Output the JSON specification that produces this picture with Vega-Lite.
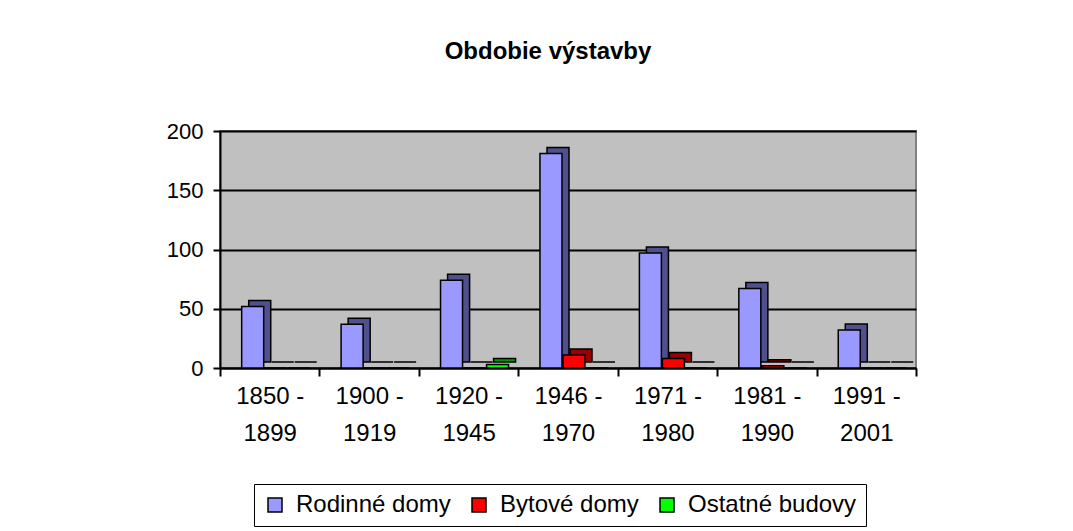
{
  "$schema": "https://vega.github.io/schema/vega-lite/v6.json",
  "width": 696,
  "height": 237,
  "padding": {"left": 166, "top": 40, "right": 10, "bottom": 2},
  "background": "white",
  "config": {
    "font": "Liberation Sans",
    "view": {"fill": "#C0C0C0", "stroke": "#808080", "strokeWidth": 2}
  },
  "title": {"text": "Obdobie výstavby", "font": "Liberation Sans", "fontSize": 24, "fontWeight": "bold", "color": "black", "offset": 56, "dx": -20},
  "data": {
    "values": [
      {"obdobie": "1850 - 1899", "typ": "Rodinné domy", "pocet": 52},
      {"obdobie": "1850 - 1899", "typ": "Bytové domy", "pocet": 0},
      {"obdobie": "1850 - 1899", "typ": "Ostatné budovy", "pocet": 0},
      {"obdobie": "1900 - 1919", "typ": "Rodinné domy", "pocet": 37},
      {"obdobie": "1900 - 1919", "typ": "Bytové domy", "pocet": 0},
      {"obdobie": "1900 - 1919", "typ": "Ostatné budovy", "pocet": 0},
      {"obdobie": "1920 - 1945", "typ": "Rodinné domy", "pocet": 74},
      {"obdobie": "1920 - 1945", "typ": "Bytové domy", "pocet": 0},
      {"obdobie": "1920 - 1945", "typ": "Ostatné budovy", "pocet": 3},
      {"obdobie": "1946 - 1970", "typ": "Rodinné domy", "pocet": 181},
      {"obdobie": "1946 - 1970", "typ": "Bytové domy", "pocet": 11},
      {"obdobie": "1946 - 1970", "typ": "Ostatné budovy", "pocet": 0},
      {"obdobie": "1971 - 1980", "typ": "Rodinné domy", "pocet": 97},
      {"obdobie": "1971 - 1980", "typ": "Bytové domy", "pocet": 8},
      {"obdobie": "1971 - 1980", "typ": "Ostatné budovy", "pocet": 0},
      {"obdobie": "1981 - 1990", "typ": "Rodinné domy", "pocet": 67},
      {"obdobie": "1981 - 1990", "typ": "Bytové domy", "pocet": 2},
      {"obdobie": "1981 - 1990", "typ": "Ostatné budovy", "pocet": 0},
      {"obdobie": "1991 - 2001", "typ": "Rodinné domy", "pocet": 32},
      {"obdobie": "1991 - 2001", "typ": "Bytové domy", "pocet": 0},
      {"obdobie": "1991 - 2001", "typ": "Ostatné budovy", "pocet": 0}
    ]
  },
  "encoding": {
    "x": {
      "field": "obdobie", "type": "nominal", "sort": null,
      "scale": {"paddingInner": 0, "paddingOuter": 0},
      "axis": {
        "title": null,
        "labelAngle": 0,
        "labelExpr": "datum.value ? [split(datum.value, ' - ')[0] + ' -', split(datum.value, ' - ')[1]] : ''",
        "labelFont": "Liberation Sans",
        "labelFontSize": 24,
        "labelColor": "black",
        "labelLineHeight": 37,
        "labelPadding": 8,
        "tickBand": "extent",
        "tickSize": 8,
        "tickColor": "black",
        "tickWidth": 2,
        "domainColor": "black",
        "domainWidth": 2
      }
    },
    "y": {
      "field": "pocet", "type": "quantitative",
      "scale": {"domain": [0, 200], "nice": false},
      "axis": {
        "title": null,
        "values": [0, 50, 100, 150, 200],
        "labelFont": "Liberation Sans",
        "labelFontSize": 22,
        "labelColor": "black",
        "labelPadding": 10,
        "tickSize": 7,
        "tickColor": "black",
        "tickWidth": 2,
        "domainColor": "black",
        "domainWidth": 2,
        "grid": true,
        "gridColor": "black",
        "gridWidth": 2
      }
    }
  },
  "layer": [
    {
      "mark": {"type": "bar", "stroke": "black", "strokeWidth": 1.5, "yOffset": -6, "y2Offset": -6},
      "encoding": {
        "xOffset": {"field": "typ", "type": "nominal", "sort": ["Rodinné domy", "Bytové domy", "Ostatné budovy"], "scale": {"paddingInner": 0.043, "paddingOuter": 0.683, "align": 0.914}},
        "color": {
          "field": "typ", "type": "nominal",
          "scale": {"domain": ["Rodinné domy", "Bytové domy", "Ostatné budovy"], "range": ["#50508C", "#990000", "#009900"]},
          "legend": null
        }
      }
    },
    {
      "mark": {"type": "bar", "stroke": "black", "strokeWidth": 1.5},
      "encoding": {
        "xOffset": {"field": "typ", "type": "nominal", "sort": ["Rodinné domy", "Bytové domy", "Ostatné budovy"], "scale": {"paddingInner": 0.043, "paddingOuter": 0.683, "align": 0.69}},
        "color": {
          "field": "typ", "type": "nominal",
          "scale": {"domain": ["Rodinné domy", "Bytové domy", "Ostatné budovy"], "range": ["#9999FF", "#FF0000", "#00FF00"]},
          "legend": {
            "title": null,
            "orient": "none",
            "legendX": 34,
            "legendY": 353,
            "direction": "horizontal",
            "symbolType": "square",
            "symbolSize": 196,
            "symbolStrokeColor": "black",
            "symbolStrokeWidth": 1.5,
            "labelFont": "Liberation Sans",
            "labelFontSize": 24,
            "labelColor": "black",
            "labelLimit": 400,
            "labelOffset": 9,
            "columnPadding": 16,
            "padding": 9,
            "strokeColor": "black",
            "fillColor": "white"
          }
        }
      }
    }
  ],
  "resolve": {"scale": {"color": "independent", "xOffset": "independent"}}
}
